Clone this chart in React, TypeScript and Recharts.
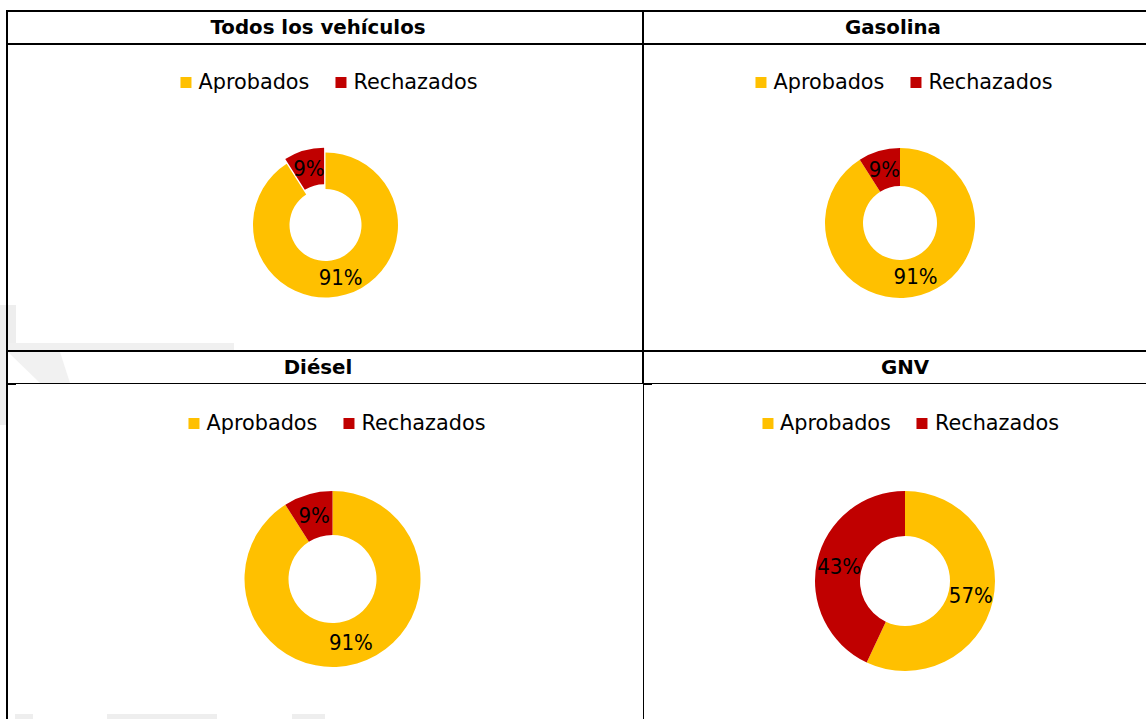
import { PieChart, Pie, Cell, Legend } from 'recharts';

const categories = ['Aprobados', 'Rechazados'];
const todosValues = [91, 9];
const gasolinaValues = [91, 9];
const dieselValues = [91, 9];
const gnvValues = [57, 43];
const titles = ['Todos los vehículos', 'Gasolina', 'Diésel', 'GNV'];

const COLORS = ['#FFC000', '#C00000'];
const RAD = Math.PI / 180;
const LABEL_FONT = '"Liberation Sans Narrow", "DejaVu Sans Condensed", sans-serif';
const TEXT_FONT = '"DejaVu Sans", Verdana, sans-serif';

// posición de cada gráfico dentro de la tabla
const PANELS = [
  { values: todosValues, title: titles[0], left: 8, top: 45, width: 634, height: 305, cx: 317.5, cy: 180, r: 72.5, inner: 36, legendX: 321, legendY: 37, titleX: 318, titleY: 27.5, explode: 5 },
  { values: gasolinaValues, title: titles[1], left: 644, top: 45, width: 502, height: 305, cx: 256, cy: 178, r: 75, inner: 37, legendX: 260, legendY: 37, titleX: 893, titleY: 27.5, explode: 0 },
  { values: dieselValues, title: titles[2], left: 8, top: 384, width: 634, height: 335, cx: 324.5, cy: 195, r: 88, inner: 44, legendX: 329, legendY: 39, titleX: 318, titleY: 367.5, explode: 0 },
  { values: gnvValues, title: titles[3], left: 644, top: 384, width: 502, height: 335, cx: 261, cy: 197, r: 90, inner: 45, legendX: 266.5, legendY: 39, titleX: 905, titleY: 367.5, explode: 0 },
];

const makeLabel = (visible: boolean[]) => (props: any) => {
  const { cx, cy, midAngle, innerRadius, outerRadius, percent, index } = props;
  if (!visible[index]) return null;
  const rr = (innerRadius + outerRadius) / 2;
  const x = cx + rr * Math.cos(-midAngle * RAD);
  const y = cy + rr * Math.sin(-midAngle * RAD);
  return (
    <text x={x} y={y} textAnchor="middle" dominantBaseline="central"
      fill="#000" fontSize={22} fontFamily={LABEL_FONT}>
      {`${Math.round(percent * 100)}%`}
    </text>
  );
};

const renderLegend = () => (
  <div style={{ display: 'flex', alignItems: 'center', whiteSpace: 'nowrap', fontFamily: TEXT_FONT, fontSize: 20.8, color: '#000' }}>
    {categories.map((c, i) => (
      <span key={c} style={{ display: 'flex', alignItems: 'center', marginLeft: i ? 26 : 0 }}>
        <span style={{ display: 'inline-block', width: 11, height: 11, background: COLORS[i], marginRight: 7 }} />
        {c}
      </span>
    ))}
  </div>
);

const Panel = ({ p }: { p: typeof PANELS[number] }) => {
  const data = categories.map((name, i) => ({ name, value: p.values[i] }));
  const total = p.values.reduce((a, b) => a + b, 0);
  // la porción "Rechazados" separada (sólo en el primer gráfico)
  const exIdx = 1;
  const before = p.values.slice(0, exIdx).reduce((a, b) => a + b, 0);
  const mid = 90 - 360 * (before + p.values[exIdx] / 2) / total;
  const dx = p.explode * Math.cos(mid * RAD);
  const dy = -p.explode * Math.sin(mid * RAD);
  const mainVisible = categories.map((_, i) => !(p.explode && i === exIdx));
  const exVisible = categories.map((_, i) => i === exIdx);

  return (
    <div style={{ position: 'absolute', left: p.left, top: p.top }}>
      <PieChart width={p.width} height={p.height} margin={{ top: 0, right: 0, bottom: 0, left: 0 }}>
        <Legend
          content={renderLegend}
          wrapperStyle={{ left: p.legendX, top: p.legendY, width: 'auto', height: 'auto', transform: 'translate(-50%, -50%)' }}
        />
        <Pie
          data={data} dataKey="value" nameKey="name"
          cx={p.cx} cy={p.cy} innerRadius={p.inner} outerRadius={p.r}
          startAngle={90} endAngle={-270} stroke="none"
          label={makeLabel(mainVisible)} labelLine={false}
          isAnimationActive={false}
        >
          {data.map((d, i) => <Cell key={d.name} fill={mainVisible[i] ? COLORS[i] : 'none'} />)}
        </Pie>
        {p.explode ? (
          <Pie
            data={data} dataKey="value" nameKey="name" legendType="none"
            cx={p.cx + dx} cy={p.cy + dy} innerRadius={p.inner} outerRadius={p.r}
            startAngle={90} endAngle={-270} stroke="none"
            label={makeLabel(exVisible)} labelLine={false}
            isAnimationActive={false}
          >
            {data.map((d, i) => <Cell key={d.name} fill={exVisible[i] ? COLORS[i] : 'none'} />)}
          </Pie>
        ) : null}
      </PieChart>
    </div>
  );
};

const line = (left: number, top: number, width: number, height: number) => (
  <div style={{ position: 'absolute', left, top, width, height, background: '#000' }} />
);

export default function App() {
  return (
    <div style={{ position: 'absolute', left: 0, top: 0, width: 1146, height: 719, overflow: 'hidden', background: '#fff' }}>
      {/* marca de agua tenue */}
      <svg width={1146} height={719} style={{ position: 'absolute', left: 0, top: 0 }}>
        <rect x={0} y={305} width={6} height={120} fill="#eeeeee" />
        <rect x={8} y={305} width={8} height={45} fill="#eeeeee" />
        <rect x={8} y={343} width={226} height={7} fill="#f0f0f0" />
        <polygon points="8,352 60,352 70,383 40,383" fill="#f1f1f1" />
        <rect x={15} y={714} width={18} height={5} fill="#eeeeee" />
        <rect x={107} y={714} width={110} height={5} fill="#eeeeee" />
        <rect x={292} y={714} width={33} height={5} fill="#eeeeee" />
      </svg>

      {PANELS.map(p => (
        <div key={p.title} style={{
          position: 'absolute', left: p.titleX - 150, top: p.titleY - 15, width: 300, height: 30,
          display: 'flex', alignItems: 'center', justifyContent: 'center',
          fontFamily: TEXT_FONT, fontWeight: 700, fontSize: 19.8, color: '#000',
        }}>{p.title}</div>
      ))}

      {PANELS.map(p => <Panel key={p.title} p={p} />)}

      {line(6, 10, 1140, 2)}
      {line(6, 43, 1140, 2)}
      {line(6, 350, 1140, 2)}
      {line(6, 383, 1140, 1)}
      {line(6, 10, 2, 709)}
      {line(642, 10, 2, 374)}
      {line(643, 383, 1, 336)}
      {line(7, 383, 9, 2)}
      {line(643, 383, 9, 2)}
    </div>
  );
}
